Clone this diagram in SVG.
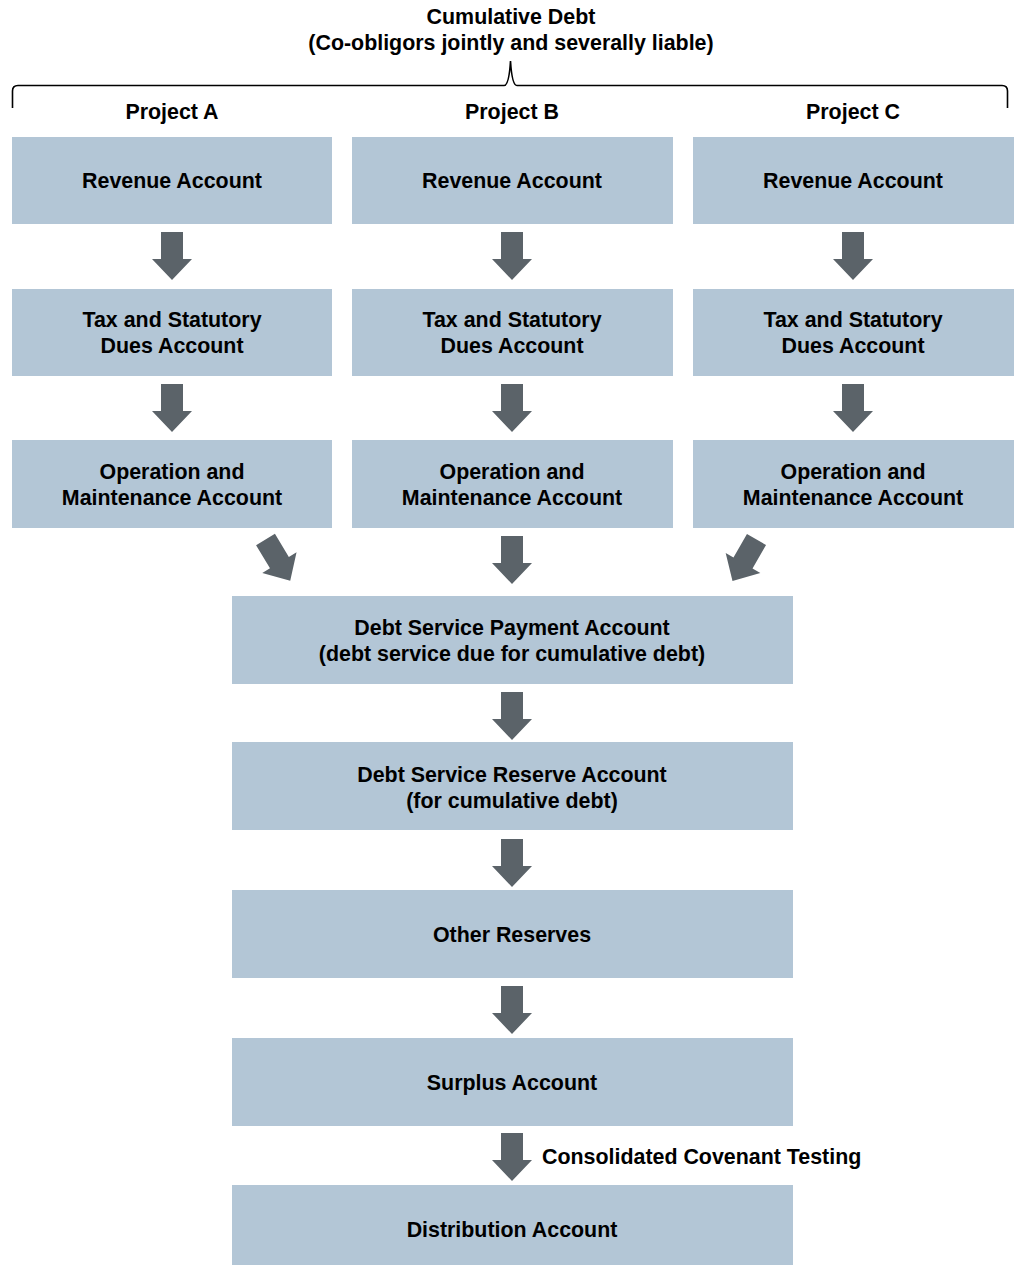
<svg xmlns="http://www.w3.org/2000/svg" width="1019" height="1265" viewBox="0 0 1019 1265">
<style>
.box{fill:#B3C6D6;}
.t{font-family:"Liberation Sans",Arial,sans-serif;font-weight:bold;font-size:21.4px;fill:#000;text-anchor:middle;}
.ts{font-family:"Liberation Sans",Arial,sans-serif;font-weight:bold;font-size:21.4px;fill:#000;}
.arr{fill:#5B6369;}
.brace{fill:none;stroke:#000;stroke-width:1.6;}
</style>
<defs>
<polygon id="dn" points="-11,0 11,0 11,27 20,27 0,48 -20,27 -11,27"/>
</defs>
<rect width="1019" height="1265" fill="#fff"/>
<g id="header">
<text class="t" x="511" y="24">Cumulative Debt</text>
<text class="t" x="511" y="50">(Co-obligors jointly and severally liable)</text>
<path class="brace" d="M12.5,108 L12.5,91 Q12.5,85.5 18,85.5 L504,85.5 Q509,85.5 510.5,61 Q512,85.5 517,85.5 L1002,85.5 Q1007.5,85.5 1007.5,91 L1007.5,108"/>
<text class="t" x="172" y="119">Project A</text>
<text class="t" x="512" y="119">Project B</text>
<text class="t" x="853" y="119">Project C</text>
</g>
<g id="revA"><rect class="box" x="12" y="137" width="320" height="87"/><text class="t" x="172" y="188">Revenue Account</text></g>
<g id="revB"><rect class="box" x="352" y="137" width="321" height="87"/><text class="t" x="512" y="188">Revenue Account</text></g>
<g id="revC"><rect class="box" x="693" y="137" width="321" height="87"/><text class="t" x="853" y="188">Revenue Account</text></g>
<g id="taxA"><rect class="box" x="12" y="289" width="320" height="87"/><text class="t" x="172" y="327">Tax and Statutory</text><text class="t" x="172" y="353">Dues Account</text></g>
<g id="taxB"><rect class="box" x="352" y="289" width="321" height="87"/><text class="t" x="512" y="327">Tax and Statutory</text><text class="t" x="512" y="353">Dues Account</text></g>
<g id="taxC"><rect class="box" x="693" y="289" width="321" height="87"/><text class="t" x="853" y="327">Tax and Statutory</text><text class="t" x="853" y="353">Dues Account</text></g>
<g id="omA"><rect class="box" x="12" y="440" width="320" height="88"/><text class="t" x="172" y="479">Operation and</text><text class="t" x="172" y="505">Maintenance Account</text></g>
<g id="omB"><rect class="box" x="352" y="440" width="321" height="88"/><text class="t" x="512" y="479">Operation and</text><text class="t" x="512" y="505">Maintenance Account</text></g>
<g id="omC"><rect class="box" x="693" y="440" width="321" height="88"/><text class="t" x="853" y="479">Operation and</text><text class="t" x="853" y="505">Maintenance Account</text></g>
<g id="dspa"><rect class="box" x="232" y="596" width="561" height="88"/><text class="t" x="512" y="635">Debt Service Payment Account</text><text class="t" x="512" y="661">(debt service due for cumulative debt)</text></g>
<g id="dsra"><rect class="box" x="232" y="742" width="561" height="88"/><text class="t" x="512" y="782">Debt Service Reserve Account</text><text class="t" x="512" y="808">(for cumulative debt)</text></g>
<g id="other"><rect class="box" x="232" y="890" width="561" height="88"/><text class="t" x="512" y="942">Other Reserves</text></g>
<g id="surplus"><rect class="box" x="232" y="1038" width="561" height="88"/><text class="t" x="512" y="1090">Surplus Account</text></g>
<g id="dist"><rect class="box" x="232" y="1185" width="561" height="80"/><text class="t" x="512" y="1237">Distribution Account</text></g>
<g id="connectors" class="arr">
<use href="#dn" x="172" y="232"/>
<use href="#dn" x="512" y="232"/>
<use href="#dn" x="853" y="232"/>
<use href="#dn" x="172" y="384"/>
<use href="#dn" x="512" y="384"/>
<use href="#dn" x="853" y="384"/>
<use href="#dn" transform="translate(265.5,539.5) rotate(-31)"/>
<use href="#dn" x="512" y="536"/>
<use href="#dn" transform="translate(756.5,539.5) rotate(30)"/>
<use href="#dn" x="512" y="692"/>
<use href="#dn" x="512" y="839"/>
<use href="#dn" x="512" y="986"/>
<use href="#dn" x="512" y="1133"/>
<text class="ts" x="542" y="1164">Consolidated Covenant Testing</text>
</g>
</svg>
